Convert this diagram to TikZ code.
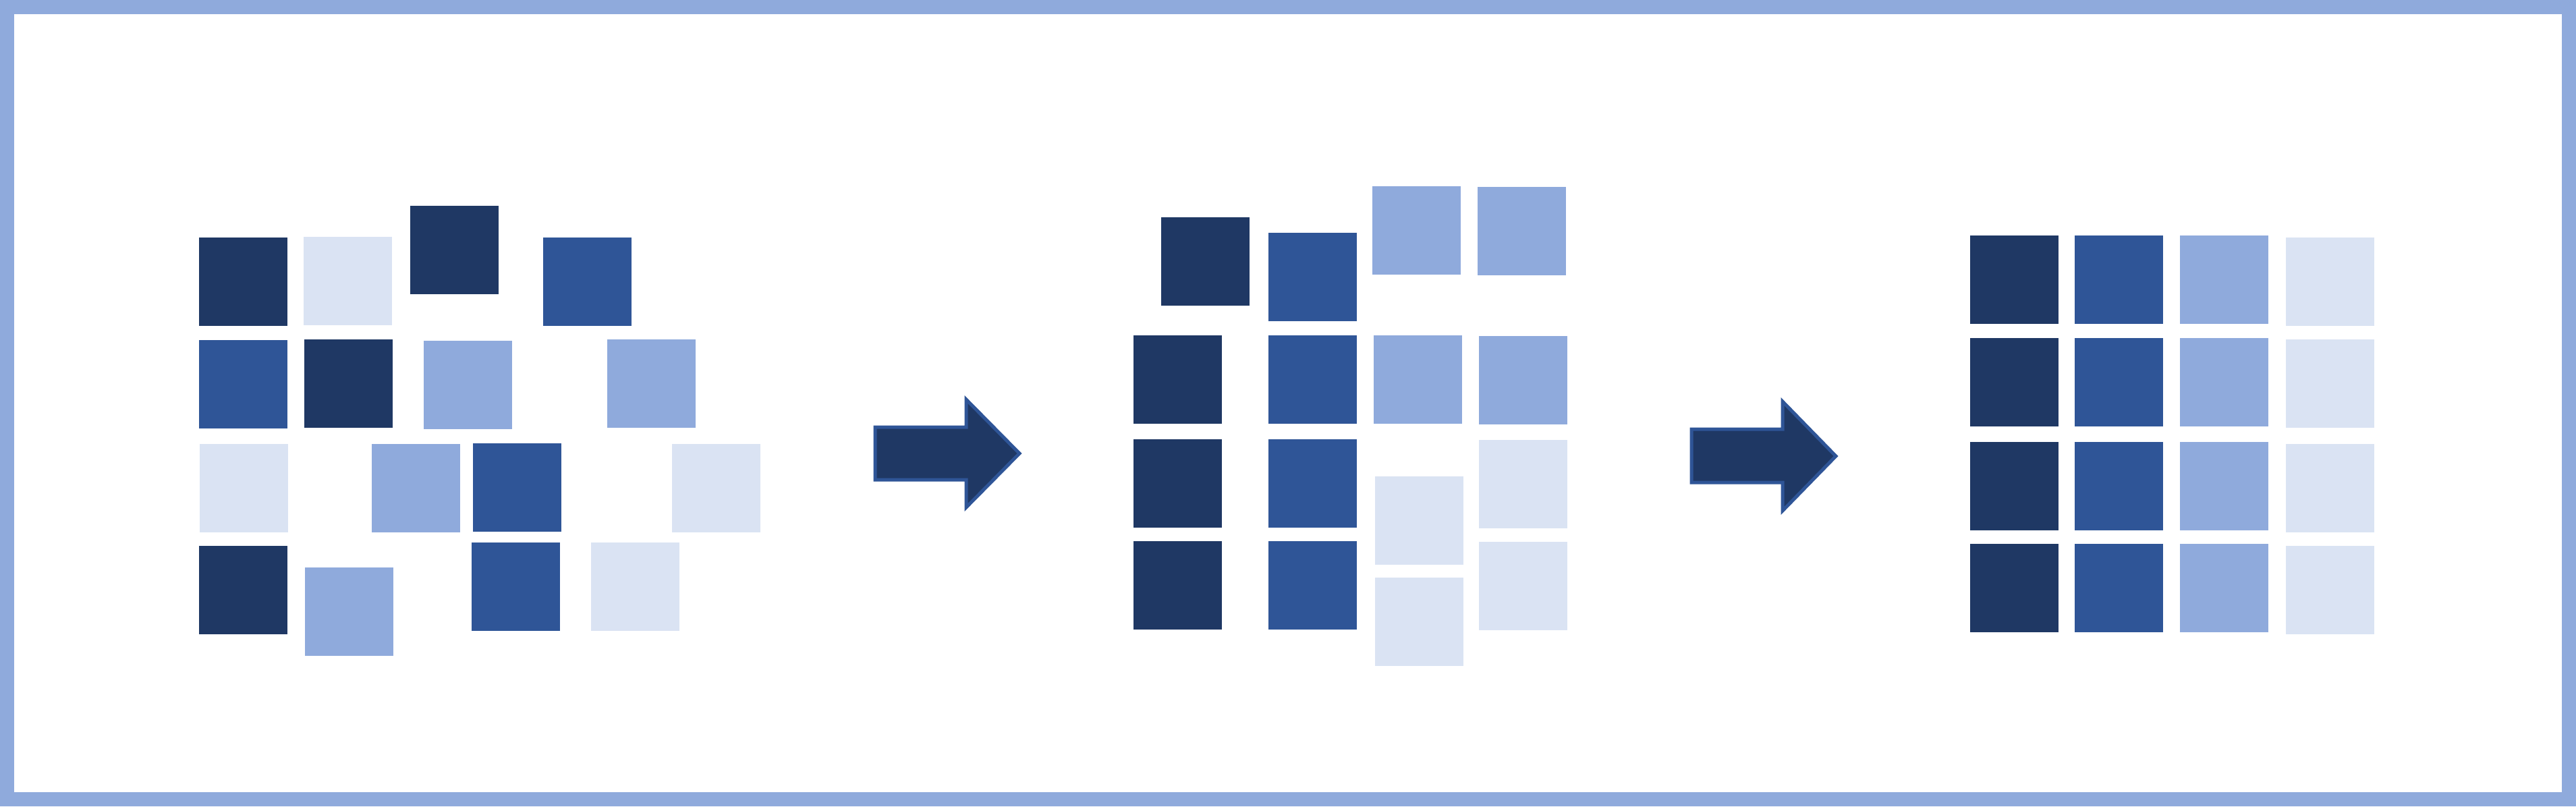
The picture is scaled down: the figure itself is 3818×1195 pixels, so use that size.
\documentclass[tikz,border=0pt]{standalone}
\usetikzlibrary{calc}
\definecolor{cdark}{HTML}{1F3864}
\definecolor{cmed}{HTML}{2F5597}
\definecolor{clight}{HTML}{8FAADC}
\definecolor{cpale}{HTML}{DAE3F3}
\tikzset{
  tile/.style={anchor=north west, minimum width=133pt, minimum height=133pt, inner sep=0pt, outer sep=0pt, draw=white, line width=1.2pt},
  tdark/.style={tile, fill=cdark},
  tmed/.style={tile, fill=cmed},
  tlight/.style={tile, fill=clight},
  tpale/.style={tile, fill=cpale},
  bigarrow/.style={fill=cdark, draw=cmed, line width=5pt, line join=miter},
}
\begin{document}
\begin{tikzpicture}[x=1pt,y=-1pt]
\useasboundingbox (0,0) rectangle (3818,1195);
\draw[draw=clight, line width=21pt] (10.5,10.5) rectangle (3807.5,1184.5);
% left cluster
\node[tdark]  (a) at (294,351) {};
\node[tpale]  (b) at (449,350) {};
\node[tdark]  (c) at (607,304) {};
\node[tmed]   (d) at (804,351) {};
\node[tmed]   (e) at (294,503) {};
\node[tdark]  (f) at (450,502) {};
\node[tlight] (g) at (627,504) {};
\node[tlight] (h) at (899,502) {};
\node[tpale]  (i) at (295,657) {};
\node[tlight] (j) at (550,657) {};
\node[tmed]   (k) at (700,656) {};
\node[tpale]  (l) at (995,657) {};
\node[tdark]  (m) at (294,808) {};
\node[tlight] (n) at (451,840) {};
\node[tmed]   (o) at (698,803) {};
\node[tpale]  (p) at (875,803) {};
% arrow 1
\draw[bigarrow] (1297,633) -- (1432,633) -- (1432,592) -- (1511,672) -- (1432,752) -- (1432,711) -- (1297,711) -- cycle;
% middle cluster
\node[tdark]  (m11) at (1720,321) {};
\node[tdark]  (m12) at (1679,496) {};
\node[tdark]  (m13) at (1679,650) {};
\node[tdark]  (m14) at (1679,801) {};
\node[tmed]   (m21) at (1879,344) {};
\node[tmed]   (m22) at (1879,496) {};
\node[tmed]   (m23) at (1879,650) {};
\node[tmed]   (m24) at (1879,801) {};
\node[tlight] (m31) at (2033,275) {};
\node[tlight] (m32) at (2035,496) {};
\node[tpale]  (m33) at (2037,705) {};
\node[tpale]  (m34) at (2037,855) {};
\node[tlight] (m41) at (2189,276) {};
\node[tlight] (m42) at (2191,497) {};
\node[tpale]  (m43) at (2191,651) {};
\node[tpale]  (m44) at (2191,802) {};
% arrow 2
\draw[bigarrow] (2507,636) -- (2642,636) -- (2642,595) -- (2721,676) -- (2642,757) -- (2642,715) -- (2507,715) -- cycle;
% right grid
\node[tdark]  (r11) at (2919,348) {};
\node[tdark]  (r12) at (2919,500) {};
\node[tdark]  (r13) at (2919,654) {};
\node[tdark]  (r14) at (2919,805) {};
\node[tmed]   (r21) at (3074,348) {};
\node[tmed]   (r22) at (3074,500) {};
\node[tmed]   (r23) at (3074,654) {};
\node[tmed]   (r24) at (3074,805) {};
\node[tlight] (r31) at (3230,348) {};
\node[tlight] (r32) at (3230,500) {};
\node[tlight] (r33) at (3230,654) {};
\node[tlight] (r34) at (3230,805) {};
\node[tpale]  (r41) at (3387,351) {};
\node[tpale]  (r42) at (3387,502) {};
\node[tpale]  (r43) at (3387,657) {};
\node[tpale]  (r44) at (3387,808) {};
\end{tikzpicture}
\end{document}
